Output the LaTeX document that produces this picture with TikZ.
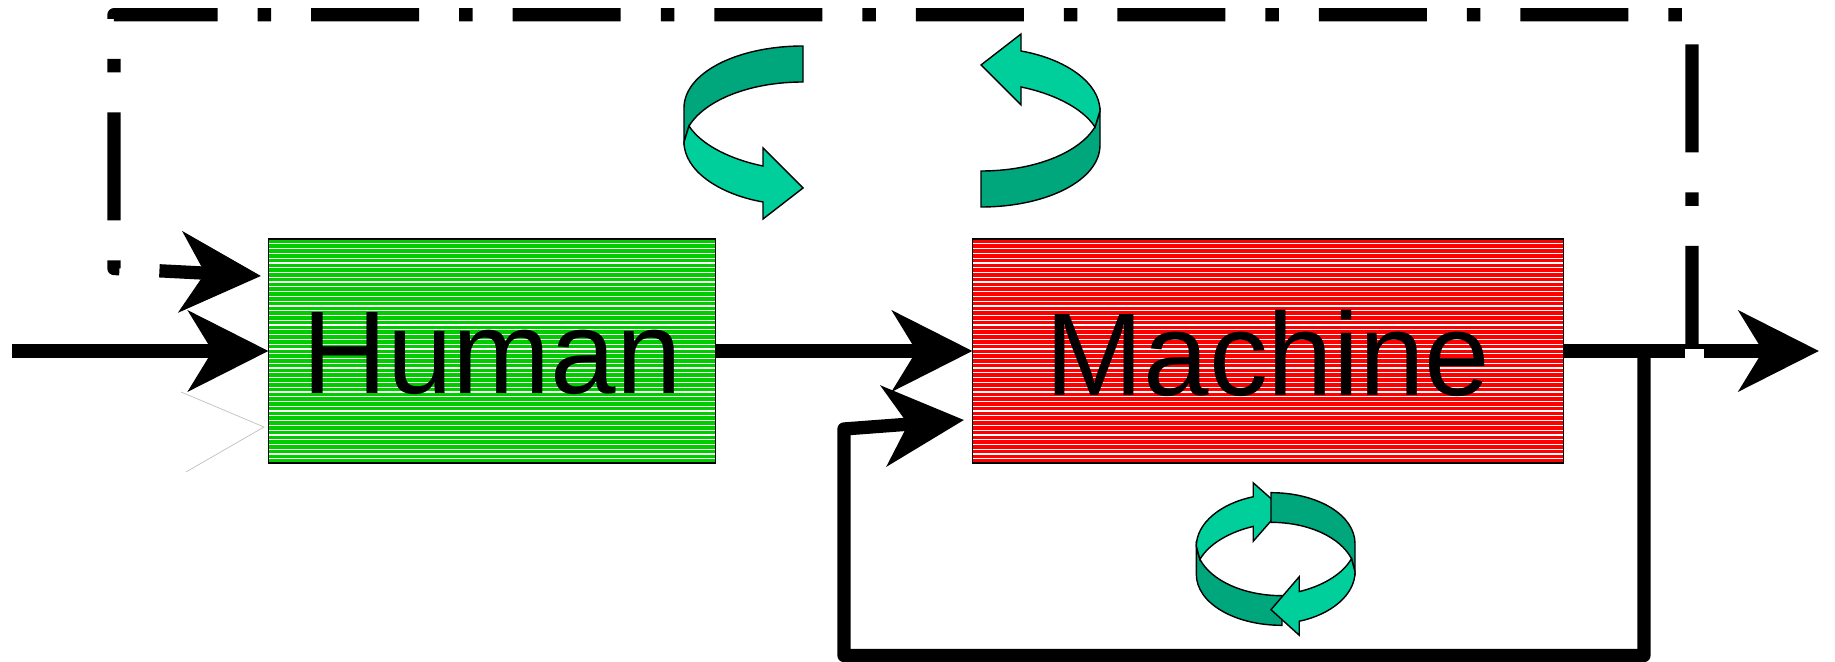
\documentclass[tikz,border=0pt]{standalone}
\usepackage{fontspec}
\setmainfont{Liberation Sans}
\usetikzlibrary{arrows.meta}
\definecolor{turndark}{RGB}{0,166,124}
\definecolor{turnlight}{RGB}{0,206,155}
\definecolor{humangreen}{RGB}{0,204,0}
\begin{document}
\begin{tikzpicture}[scale=0.2]
\tikzstyle{every node}+=[inner sep=0pt,outer sep=0pt]
\tikzstyle{flow}=[black,line width=0.266cm,-{Stealth[length=1.6cm,width=1.6cm,inset=0.48cm]}]
\tikzstyle{loopback}=[line join=round]
\tikzstyle{dashdot}=[dash pattern=on 2.16cm off 0.8cm on 0.27cm off 0.8cm,dash phase=0.1cm]
\tikzstyle{stripes}=[path picture={\foreach \k in {1,...,46}
  \draw [white,line width=0.7pt] ([yshift=-\k*2.72pt]path picture bounding box.north west) -- ([yshift=-\k*2.72pt]path picture bounding box.north east);}]
\tikzstyle{block}=[draw=black,line width=1.1pt,minimum height=4.48cm,font=\fontsize{67}{70}\selectfont,stripes]
\tikzset{turn/.pic={
  \draw [black,line width=0.8pt,fill=turndark] (0,8.05) .. controls (-6.6,8.05) and (-11.9,5.35) .. (-11.9,1.85) -- (-11.9,-1.55) -- (-11.4,0.05) .. controls (-9.8,2.65) and (-5.3,4.45) .. (0,4.45) -- cycle;
  \draw [black,line width=0.8pt,fill=turnlight] (-11.4,0.05) .. controls (-10.1,-1.95) and (-7,-3.35) .. (-4,-3.95) -- (-4,-2.15) -- (0,-6.15) -- (-4,-9.25) -- (-4,-7.55) .. controls (-8.5,-6.75) and (-11.9,-4.35) .. (-11.9,-1.55) -- cycle;
}}
\useasboundingbox (0,0) rectangle (183.5,-66.2);
\draw (49.2,-35.1) node (human) [block,minimum width=8.94cm,fill=humangreen] {\raisebox{-0.04cm}[\height][0pt]{Human}};
\draw (126.8,-35.1) node (machine) [block,minimum width=11.82cm,fill=red] {\raisebox{-0.04cm}[\height][0pt]{Machine}};
\coordinate (inlet) at (1.2,-35.1);
\coordinate (outlet) at (181.9,-35.1);
\coordinate (tap) at (164.4,-35.1);
\coordinate (tapcorner) at (164.4,-65.55);
\coordinate (backcorner) at (84.4,-65.55);
\coordinate (backup) at (84.4,-42.9);
\coordinate (backtip) at (96.4,-42);
\coordinate (watch) at (169.2,-34.9);
\coordinate (watchright) at (169.2,-1.47);
\coordinate (watchleft) at (11.4,-1.47);
\coordinate (watchdown) at (11.4,-26.85);
\coordinate (watchtip) at (26.1,-27.6);
\draw [flow] (inlet) -- (human.west);
\draw [flow] (human.east) -- (machine.west);
\draw [flow] (machine.east) -- (outlet);
\fill [white] (168.5,-34.9) rectangle (170.4,-35.75);
\draw [flow,loopback] (tap) -- (tapcorner) -- (backcorner) -- (backup) -- (backtip);
\draw [flow,loopback,dashdot] (watch) -- (watchright) -- (watchleft) -- (watchdown) -- (watchtip);
\coordinate (ghosttop) at (18.1,-39.2);
\coordinate (ghosttip) at (26.4,-42.7);
\coordinate (ghostlow) at (18.6,-47.2);
\draw [black!25,line width=0.4pt] (ghosttop) -- (ghosttip) -- (ghostlow);
\pic [scale=0.2] at (80.3,-12.65) {turn};
\pic [scale=0.2,rotate=180] at (98.1,-12.65) {turn};
\pic [xscale=0.144,yscale=-0.1648] at (128.2,-55.9) {turn};
\pic [xscale=-0.1412,yscale=0.1648] at (127.1,-55.9) {turn};
\end{tikzpicture}
\end{document}
